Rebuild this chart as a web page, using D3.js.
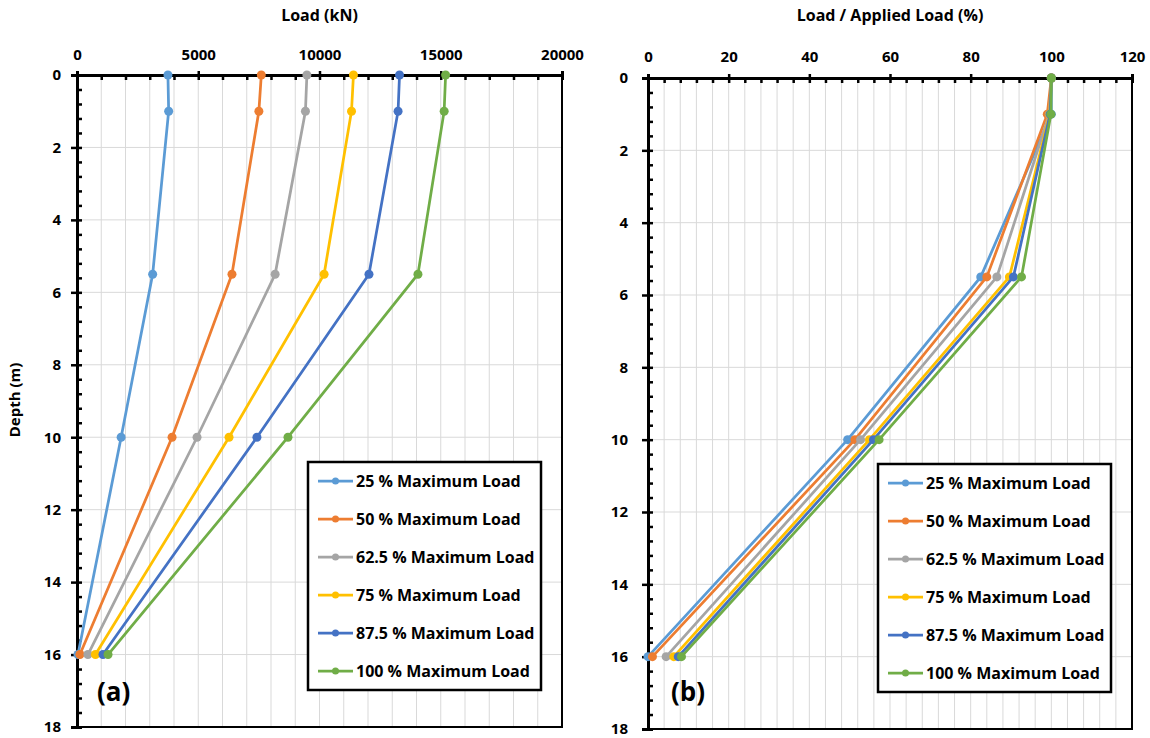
<!DOCTYPE html>
<html>
<head>
<meta charset="utf-8">
<script src="https://cdn.jsdelivr.net/npm/d3@7"></script>
<style>
  body { margin: 0; background: #fff; }
  text { font-family: "Open Sans", sans-serif; font-weight: bold; fill: #000; }
</style>
</head>
<body>
<div id="chart"></div>
<script>
// ---- data ----
var depths = [0, 1, 5.5, 10, 16];
var seriesNames = ["25 % Maximum Load", "50 % Maximum Load", "62.5 % Maximum Load",
                   "75 % Maximum Load", "87.5 % Maximum Load", "100 % Maximum Load"];
var seriesColors = ["#5B9BD5", "#ED7D31", "#A5A5A5", "#FFC000", "#4472C4", "#70AD47"];

// load (kN) at each depth
var kn25  = [3750, 3780, 3120, 1820, 40];
var kn50  = [7600, 7500, 6390, 3920, 120];
var kn625 = [9480, 9420, 8170, 4950, 450];
var kn75  = [11400, 11320, 10190, 6270, 760];
var kn875 = [13300, 13240, 12040, 7420, 1070];
var kn100 = [15200, 15140, 14060, 8700, 1280];

// load / applied load (%) at each depth
var pct25  = [100, 100, 82.5, 49.5, 0];
var pct50  = [100, 99, 84, 51.3, 1.1];
var pct625 = [100, 99.5, 86.5, 52.7, 4.5];
var pct75  = [100, 99.6, 89.6, 54.9, 6.4];
var pct875 = [100, 99.7, 90.6, 55.9, 7.5];
var pct100 = [100, 99.9, 92.6, 57.3, 8.3];

var knTicks = [0, 5000, 10000, 15000, 20000];
var pctTicks = [0, 20, 40, 60, 80, 100, 120];
var depthTicks = [0, 2, 4, 6, 8, 10, 12, 14, 16, 18];

var svg = d3.select("#chart").append("svg")
  .attr("width", 1150)
  .attr("height", 738);

function drawPanel(p) {
  var x = d3.scaleLinear().domain(p.xDomain).range([p.left, p.right]);
  var y = d3.scaleLinear().domain([0, 18]).range([p.top, p.bottom]);
  var g = svg.append("g");

  // light grid
  g.append("g").selectAll("line")
    .data(d3.range(p.xDomain[0], p.xDomain[1] + 0.001, p.xMinor))
    .enter().append("line")
    .attr("x1", function(d) { return x(d); }).attr("x2", function(d) { return x(d); })
    .attr("y1", p.top).attr("y2", p.bottom)
    .style("stroke", "#d9d9d9").style("stroke-width", 1);
  g.append("g").selectAll("line")
    .data(depthTicks)
    .enter().append("line")
    .attr("x1", p.left).attr("x2", p.right)
    .attr("y1", function(d) { return y(d); }).attr("y2", function(d) { return y(d); })
    .style("stroke", "#d9d9d9").style("stroke-width", 1);

  // plot border (right + bottom)
  g.append("rect")
    .attr("x", p.left).attr("y", p.top)
    .attr("width", p.right - p.left).attr("height", p.bottom - p.top)
    .style("fill", "none").style("stroke", "#000").style("stroke-width", 2);

  // top axis: labels + ticks pointing up
  var xa = g.append("g").attr("transform", "translate(0," + p.top + ")")
    .call(d3.axisTop(x).tickValues(p.xTicks).tickSize(4).tickPadding(p.xPad).tickFormat(d3.format("d")));
  // ticks pointing down, major and minor
  g.append("g").attr("transform", "translate(0," + p.top + ")")
    .call(d3.axisBottom(x).tickValues(d3.range(p.xDomain[0], p.xDomain[1] + 0.001, p.xMinor))
      .tickSize(5).tickFormat(""));
  xa.selectAll("text").style("font-size", "15px").style("font-family", "'Open Sans', sans-serif").style("font-weight", "bold");

  // left axis
  var ya = g.append("g").attr("transform", "translate(" + p.left + ",0)")
    .call(d3.axisLeft(y).tickValues(depthTicks).tickSize(6).tickPadding(p.yPad));
  g.append("g").attr("transform", "translate(" + p.left + ",0)")
    .call(d3.axisRight(y).tickValues(d3.range(0, 18.001, 0.4)).tickSize(5).tickFormat(""));
  ya.selectAll("text").style("font-size", "15px").style("font-family", "'Open Sans', sans-serif").style("font-weight", "bold");

  svg.selectAll(".domain").style("stroke", "#000").style("stroke-width", 3);
  svg.selectAll(".tick line").style("stroke", "#000").style("stroke-width", 2.5);

  // axis title
  g.append("text")
    .attr("x", (p.left + p.right) / 2 + p.titleDx).attr("y", 21)
    .attr("text-anchor", "middle")
    .style("font-size", "16px")
    .text(p.title);

  // series
  var line = d3.line()
    .x(function(d) { return x(d[0]); })
    .y(function(d) { return y(d[1]); });
  p.series.forEach(function(vals, i) {
    var pts = vals.map(function(v, j) { return [v, depths[j]]; });
    g.append("path").datum(pts)
      .attr("d", line)
      .style("fill", "none")
      .style("stroke", seriesColors[i])
      .style("stroke-width", 2.75);
    g.append("g").selectAll("circle").data(pts).enter().append("circle")
      .attr("cx", function(d) { return x(d[0]); })
      .attr("cy", function(d) { return y(d[1]); })
      .attr("r", 4.5)
      .style("fill", seriesColors[i]);
  });

  // legend
  var lg = g.append("g").attr("transform", "translate(" + p.legX + "," + p.legY + ")");
  lg.append("rect").attr("width", 233).attr("height", 228)
    .style("fill", "#fff").style("stroke", "#000").style("stroke-width", 2.5);
  seriesNames.forEach(function(name, i) {
    var yy = 19 + i * 38;
    lg.append("line").attr("x1", 10).attr("x2", 45).attr("y1", yy).attr("y2", yy)
      .style("stroke", seriesColors[i]).style("stroke-width", 2.75);
    lg.append("circle").attr("cx", 27.5).attr("cy", yy).attr("r", 3.5)
      .style("fill", seriesColors[i]);
    lg.append("text").attr("x", 48).attr("y", yy).attr("dy", "0.35em")
      .style("font-size", "16px")
      .text(name);
  });

  // panel letter
  g.append("text").attr("x", p.tagX).attr("y", 701)
    .style("font-size", "26px")
    .text(p.tag);
}

drawPanel({
  left: 77, right: 562, top: 75, bottom: 727,
  xDomain: [0, 20000], xMinor: 1000, xTicks: knTicks,
  title: "Load (kN)", titleDx: 0, xPad: 11, yPad: 10,
  series: [kn25, kn50, kn625, kn75, kn875, kn100],
  legX: 308, legY: 462, tag: "(a)", tagX: 97
});

drawPanel({
  left: 648, right: 1132, top: 78, bottom: 729,
  xDomain: [0, 120], xMinor: 4, xTicks: pctTicks,
  title: "Load / Applied Load (%)", titleDx: 0, xPad: 12, yPad: 14,
  series: [pct25, pct50, pct625, pct75, pct875, pct100],
  legX: 878, legY: 464, tag: "(b)", tagX: 671
});

// y-axis title, left panel only
svg.append("text")
  .attr("transform", "translate(20,400) rotate(-90)")
  .attr("text-anchor", "middle")
  .style("font-size", "15px")
  .text("Depth (m)");
</script>
</body>
</html>
